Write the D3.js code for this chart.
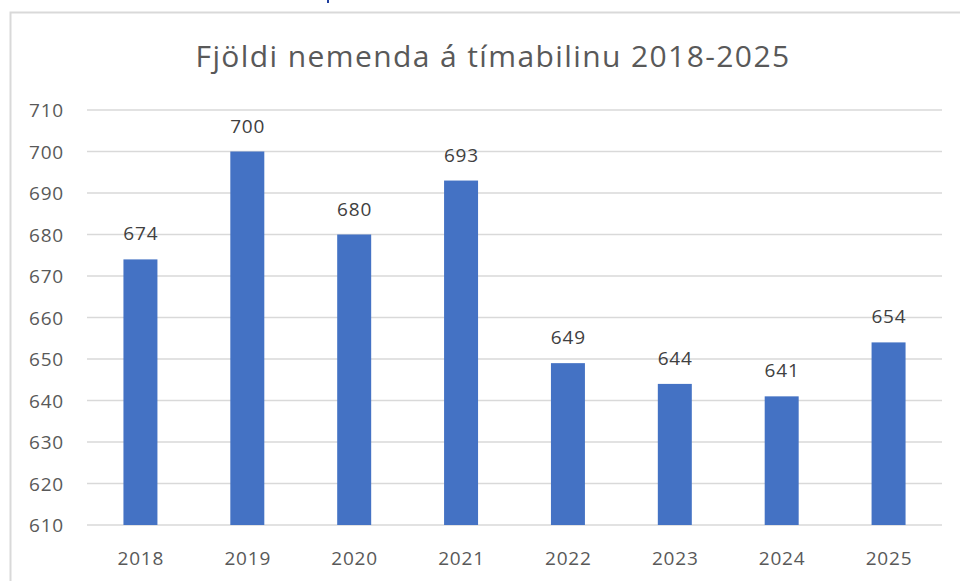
<!DOCTYPE html>
<html>
<head>
<meta charset="utf-8">
<script src="https://cdn.jsdelivr.net/npm/d3@7"></script>
<style>
  body { margin: 0; background: #fff; }
  svg { display: block; font-family: "Open Sans", sans-serif; }
</style>
</head>
<body>
<div id="chart"></div>
<script>
// Fjöldi nemenda 2018-2025 – column chart
const years = ["2018", "2019", "2020", "2021", "2022", "2023", "2024", "2025"];
const students = [674, 700, 680, 693, 649, 644, 641, 654];
const yTicks = [610, 620, 630, 640, 650, 660, 670, 680, 690, 700, 710];
const title = "Fjöldi nemenda á tímabilinu 2018-2025";

(function () {
  const W = 960, H = 581;
  const plot = { left: 87, right: 942, top: 110, bottom: 525 };
  const FONT = "Open Sans, sans-serif";
  const labelSize = 19;
  const labelSpacing = 0.8;

  const svg = d3.select("#chart").append("svg")
    .attr("width", W)
    .attr("height", H);

  // chart frame (runs off the right/bottom edge in the screenshot)
  svg.append("path")
    .attr("d", `M10.5,${H + 5} V12.5 H${W + 5}`)
    .attr("fill", "none")
    .attr("stroke", "#d9d9d9")
    .attr("stroke-width", 2);

  // little blue remnant above the frame
  svg.append("rect")
    .attr("x", 327).attr("y", 0)
    .attr("width", 2).attr("height", 3)
    .attr("fill", "#1f3f9f");

  const x = d3.scaleBand()
    .domain(years)
    .range([plot.left, plot.right])
    .paddingInner(0.682)
    .paddingOuter(0.341);

  const y = d3.scaleLinear()
    .domain([610, 710])
    .range([plot.bottom, plot.top]);

  // gridlines
  svg.append("g")
    .selectAll("line")
    .data(yTicks)
    .join("line")
    .attr("x1", plot.left)
    .attr("x2", plot.right)
    .attr("y1", d => y(d))
    .attr("y2", d => y(d))
    .attr("stroke", "#d9d9d9")
    .attr("stroke-width", 1.5);

  // y axis labels
  const yAxis = svg.append("g")
    .attr("transform", `translate(64,0)`)
    .call(d3.axisLeft(y).tickValues(yTicks).tickSize(0).tickPadding(0));
  yAxis.select(".domain").remove();
  yAxis.selectAll("text")
    .attr("font-family", FONT)
    .attr("font-size", labelSize)
    .attr("letter-spacing", labelSpacing)
    .attr("fill", "#595959")
    .attr("dy", "0.36em");

  // bars
  svg.append("g")
    .selectAll("rect")
    .data(years)
    .join("rect")
    .attr("x", d => x(d))
    .attr("width", x.bandwidth())
    .attr("y", (d, i) => y(students[i]))
    .attr("height", (d, i) => y(610) - y(students[i]))
    .attr("fill", "#4472c4");

  // data labels
  svg.append("g")
    .selectAll("text")
    .data(years)
    .join("text")
    .attr("x", d => x(d) + x.bandwidth() / 2 + labelSpacing / 2)
    .attr("y", (d, i) => y(students[i]) - 19)
    .attr("text-anchor", "middle")
    .attr("font-size", labelSize)
    .attr("letter-spacing", labelSpacing)
    .attr("fill", "#404040")
    .text((d, i) => students[i]);

  // x axis labels
  const xAxis = svg.append("g")
    .attr("transform", `translate(${labelSpacing / 2},${plot.bottom})`)
    .call(d3.axisBottom(x).tickSize(0).tickPadding(0));
  xAxis.select(".domain").remove();
  xAxis.selectAll("text")
    .attr("font-family", FONT)
    .attr("font-size", labelSize)
    .attr("letter-spacing", labelSpacing)
    .attr("fill", "#595959")
    .attr("dy", null)
    .attr("y", 40);

  // title
  svg.append("text")
    .attr("x", 493)
    .attr("y", 67)
    .attr("text-anchor", "middle")
    .attr("font-size", 30)
    .attr("letter-spacing", 1.4)
    .attr("fill", "#595959")
    .text(title);
})();
</script>
</body>
</html>
